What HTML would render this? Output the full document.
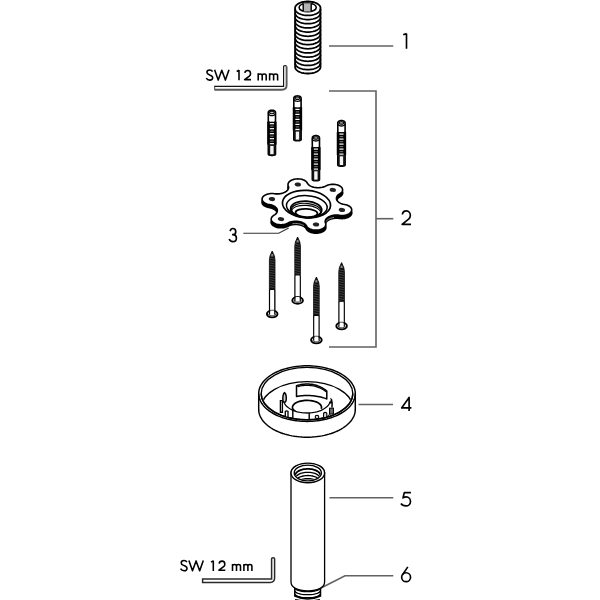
<!DOCTYPE html>
<html><head><meta charset="utf-8"><style>
html,body{margin:0;padding:0;background:#fff;}
svg{display:block;}
</style></head><body>
<svg width="600" height="600" viewBox="0 0 600 600">
<rect width="600" height="600" fill="#fff"/>
<path d="M295.10,8.00 L295.14,7.49 L295.26,6.98 L295.45,6.48 L295.72,5.99 L296.07,5.51 L296.48,5.05 L296.97,4.60 L297.53,4.18 L298.14,3.78 L298.82,3.40 L299.55,3.06 L300.34,2.74 L301.16,2.46 L302.03,2.21 L302.94,1.99 L303.88,1.82 L304.84,1.68 L305.81,1.58 L306.80,1.52 L307.80,1.50 L308.80,1.52 L309.79,1.58 L310.76,1.68 L311.72,1.82 L312.66,1.99 L313.57,2.21 L314.44,2.46 L315.26,2.74 L316.05,3.06 L316.78,3.40 L317.46,3.78 L318.07,4.18 L318.63,4.60 L319.12,5.05 L319.53,5.51 L319.88,5.99 L320.15,6.48 L320.34,6.98 L320.46,7.49 L320.50,8.00 L320.50,67.00 L320.46,67.51 L320.34,68.02 L320.15,68.52 L319.88,69.01 L319.53,69.49 L319.12,69.95 L318.63,70.40 L318.07,70.82 L317.46,71.22 L316.78,71.60 L316.05,71.94 L315.26,72.26 L314.44,72.54 L313.57,72.79 L312.66,73.01 L311.72,73.18 L310.76,73.32 L309.79,73.42 L308.80,73.48 L307.80,73.50 L306.80,73.48 L305.81,73.42 L304.84,73.32 L303.88,73.18 L302.94,73.01 L302.03,72.79 L301.16,72.54 L300.34,72.26 L299.55,71.94 L298.82,71.60 L298.14,71.22 L297.53,70.82 L296.97,70.40 L296.48,69.95 L296.07,69.49 L295.72,69.01 L295.45,68.52 L295.26,68.02 L295.14,67.51 L295.10,67.00Z" fill="#fff" stroke="#000" stroke-width="1.8"/>
<ellipse cx="307.7" cy="7.4" rx="8.6" ry="4.3" fill="#fff" stroke="#000" stroke-width="1.6"/>
<rect x="303.2" y="3.3" width="8" height="8.2" fill="#b4b4b4" stroke="none"/>
<path d="M303.2,3.4 V11.4 M311.2,3.4 V11.4" stroke="#000" stroke-width="1.4"/>
<path d="M295.10,8.90 L295.17,9.58 L295.38,10.25 L295.72,10.91 L296.20,11.54 L296.80,12.15 L297.53,12.72 L298.36,13.25 L299.30,13.73 L300.34,14.16 L301.45,14.53 L302.63,14.84 L303.88,15.08 L305.16,15.26 L306.47,15.36 L307.80,15.40 L309.13,15.36 L310.44,15.26 L311.72,15.08 L312.97,14.84 L314.15,14.53 L315.26,14.16 L316.30,13.73 L317.24,13.25 L318.07,12.72 L318.80,12.15 L319.40,11.54 L319.88,10.91 L320.22,10.25 L320.43,9.58 L320.50,8.90" fill="none" stroke="#000" stroke-width="1.75"/>
<path d="M295.10,13.07 L295.17,13.75 L295.38,14.42 L295.72,15.08 L296.20,15.71 L296.80,16.32 L297.53,16.89 L298.36,17.42 L299.30,17.90 L300.34,18.33 L301.45,18.70 L302.63,19.01 L303.88,19.25 L305.16,19.43 L306.47,19.53 L307.80,19.57 L309.13,19.53 L310.44,19.43 L311.72,19.25 L312.97,19.01 L314.15,18.70 L315.26,18.33 L316.30,17.90 L317.24,17.42 L318.07,16.89 L318.80,16.32 L319.40,15.71 L319.88,15.08 L320.22,14.42 L320.43,13.75 L320.50,13.07" fill="none" stroke="#000" stroke-width="1.75"/>
<path d="M295.10,17.24 L295.17,17.92 L295.38,18.59 L295.72,19.25 L296.20,19.88 L296.80,20.49 L297.53,21.06 L298.36,21.59 L299.30,22.07 L300.34,22.50 L301.45,22.87 L302.63,23.18 L303.88,23.42 L305.16,23.60 L306.47,23.70 L307.80,23.74 L309.13,23.70 L310.44,23.60 L311.72,23.42 L312.97,23.18 L314.15,22.87 L315.26,22.50 L316.30,22.07 L317.24,21.59 L318.07,21.06 L318.80,20.49 L319.40,19.88 L319.88,19.25 L320.22,18.59 L320.43,17.92 L320.50,17.24" fill="none" stroke="#000" stroke-width="1.75"/>
<path d="M295.10,21.41 L295.17,22.09 L295.38,22.76 L295.72,23.42 L296.20,24.05 L296.80,24.66 L297.53,25.23 L298.36,25.76 L299.30,26.24 L300.34,26.67 L301.45,27.04 L302.63,27.35 L303.88,27.59 L305.16,27.77 L306.47,27.87 L307.80,27.91 L309.13,27.87 L310.44,27.77 L311.72,27.59 L312.97,27.35 L314.15,27.04 L315.26,26.67 L316.30,26.24 L317.24,25.76 L318.07,25.23 L318.80,24.66 L319.40,24.05 L319.88,23.42 L320.22,22.76 L320.43,22.09 L320.50,21.41" fill="none" stroke="#000" stroke-width="1.75"/>
<path d="M295.10,25.58 L295.17,26.26 L295.38,26.93 L295.72,27.59 L296.20,28.22 L296.80,28.83 L297.53,29.40 L298.36,29.93 L299.30,30.41 L300.34,30.84 L301.45,31.21 L302.63,31.52 L303.88,31.76 L305.16,31.94 L306.47,32.04 L307.80,32.08 L309.13,32.04 L310.44,31.94 L311.72,31.76 L312.97,31.52 L314.15,31.21 L315.26,30.84 L316.30,30.41 L317.24,29.93 L318.07,29.40 L318.80,28.83 L319.40,28.22 L319.88,27.59 L320.22,26.93 L320.43,26.26 L320.50,25.58" fill="none" stroke="#000" stroke-width="1.75"/>
<path d="M295.10,29.75 L295.17,30.43 L295.38,31.10 L295.72,31.76 L296.20,32.39 L296.80,33.00 L297.53,33.57 L298.36,34.10 L299.30,34.58 L300.34,35.01 L301.45,35.38 L302.63,35.69 L303.88,35.93 L305.16,36.11 L306.47,36.21 L307.80,36.25 L309.13,36.21 L310.44,36.11 L311.72,35.93 L312.97,35.69 L314.15,35.38 L315.26,35.01 L316.30,34.58 L317.24,34.10 L318.07,33.57 L318.80,33.00 L319.40,32.39 L319.88,31.76 L320.22,31.10 L320.43,30.43 L320.50,29.75" fill="none" stroke="#000" stroke-width="1.75"/>
<path d="M295.10,33.92 L295.17,34.60 L295.38,35.27 L295.72,35.93 L296.20,36.56 L296.80,37.17 L297.53,37.74 L298.36,38.27 L299.30,38.75 L300.34,39.18 L301.45,39.55 L302.63,39.86 L303.88,40.10 L305.16,40.28 L306.47,40.38 L307.80,40.42 L309.13,40.38 L310.44,40.28 L311.72,40.10 L312.97,39.86 L314.15,39.55 L315.26,39.18 L316.30,38.75 L317.24,38.27 L318.07,37.74 L318.80,37.17 L319.40,36.56 L319.88,35.93 L320.22,35.27 L320.43,34.60 L320.50,33.92" fill="none" stroke="#000" stroke-width="1.75"/>
<path d="M295.10,38.09 L295.17,38.77 L295.38,39.44 L295.72,40.10 L296.20,40.73 L296.80,41.34 L297.53,41.91 L298.36,42.44 L299.30,42.92 L300.34,43.35 L301.45,43.72 L302.63,44.03 L303.88,44.27 L305.16,44.45 L306.47,44.55 L307.80,44.59 L309.13,44.55 L310.44,44.45 L311.72,44.27 L312.97,44.03 L314.15,43.72 L315.26,43.35 L316.30,42.92 L317.24,42.44 L318.07,41.91 L318.80,41.34 L319.40,40.73 L319.88,40.10 L320.22,39.44 L320.43,38.77 L320.50,38.09" fill="none" stroke="#000" stroke-width="1.75"/>
<path d="M295.10,42.26 L295.17,42.94 L295.38,43.61 L295.72,44.27 L296.20,44.90 L296.80,45.51 L297.53,46.08 L298.36,46.61 L299.30,47.09 L300.34,47.52 L301.45,47.89 L302.63,48.20 L303.88,48.44 L305.16,48.62 L306.47,48.72 L307.80,48.76 L309.13,48.72 L310.44,48.62 L311.72,48.44 L312.97,48.20 L314.15,47.89 L315.26,47.52 L316.30,47.09 L317.24,46.61 L318.07,46.08 L318.80,45.51 L319.40,44.90 L319.88,44.27 L320.22,43.61 L320.43,42.94 L320.50,42.26" fill="none" stroke="#000" stroke-width="1.75"/>
<path d="M295.10,46.43 L295.17,47.11 L295.38,47.78 L295.72,48.44 L296.20,49.07 L296.80,49.68 L297.53,50.25 L298.36,50.78 L299.30,51.26 L300.34,51.69 L301.45,52.06 L302.63,52.37 L303.88,52.61 L305.16,52.79 L306.47,52.89 L307.80,52.93 L309.13,52.89 L310.44,52.79 L311.72,52.61 L312.97,52.37 L314.15,52.06 L315.26,51.69 L316.30,51.26 L317.24,50.78 L318.07,50.25 L318.80,49.68 L319.40,49.07 L319.88,48.44 L320.22,47.78 L320.43,47.11 L320.50,46.43" fill="none" stroke="#000" stroke-width="1.75"/>
<path d="M295.10,50.60 L295.17,51.28 L295.38,51.95 L295.72,52.61 L296.20,53.24 L296.80,53.85 L297.53,54.42 L298.36,54.95 L299.30,55.43 L300.34,55.86 L301.45,56.23 L302.63,56.54 L303.88,56.78 L305.16,56.96 L306.47,57.06 L307.80,57.10 L309.13,57.06 L310.44,56.96 L311.72,56.78 L312.97,56.54 L314.15,56.23 L315.26,55.86 L316.30,55.43 L317.24,54.95 L318.07,54.42 L318.80,53.85 L319.40,53.24 L319.88,52.61 L320.22,51.95 L320.43,51.28 L320.50,50.60" fill="none" stroke="#000" stroke-width="1.75"/>
<path d="M295.10,54.77 L295.17,55.45 L295.38,56.12 L295.72,56.78 L296.20,57.41 L296.80,58.02 L297.53,58.59 L298.36,59.12 L299.30,59.60 L300.34,60.03 L301.45,60.40 L302.63,60.71 L303.88,60.95 L305.16,61.13 L306.47,61.23 L307.80,61.27 L309.13,61.23 L310.44,61.13 L311.72,60.95 L312.97,60.71 L314.15,60.40 L315.26,60.03 L316.30,59.60 L317.24,59.12 L318.07,58.59 L318.80,58.02 L319.40,57.41 L319.88,56.78 L320.22,56.12 L320.43,55.45 L320.50,54.77" fill="none" stroke="#000" stroke-width="1.75"/>
<path d="M295.10,58.94 L295.17,59.62 L295.38,60.29 L295.72,60.95 L296.20,61.58 L296.80,62.19 L297.53,62.76 L298.36,63.29 L299.30,63.77 L300.34,64.20 L301.45,64.57 L302.63,64.88 L303.88,65.12 L305.16,65.30 L306.47,65.40 L307.80,65.44 L309.13,65.40 L310.44,65.30 L311.72,65.12 L312.97,64.88 L314.15,64.57 L315.26,64.20 L316.30,63.77 L317.24,63.29 L318.07,62.76 L318.80,62.19 L319.40,61.58 L319.88,60.95 L320.22,60.29 L320.43,59.62 L320.50,58.94" fill="none" stroke="#000" stroke-width="1.75"/>
<path d="M295.10,63.11 L295.17,63.79 L295.38,64.46 L295.72,65.12 L296.20,65.75 L296.80,66.36 L297.53,66.93 L298.36,67.46 L299.30,67.94 L300.34,68.37 L301.45,68.74 L302.63,69.05 L303.88,69.29 L305.16,69.47 L306.47,69.57 L307.80,69.61 L309.13,69.57 L310.44,69.47 L311.72,69.29 L312.97,69.05 L314.15,68.74 L315.26,68.37 L316.30,67.94 L317.24,67.46 L318.07,66.93 L318.80,66.36 L319.40,65.75 L319.88,65.12 L320.22,64.46 L320.43,63.79 L320.50,63.11" fill="none" stroke="#000" stroke-width="1.75"/>
<g stroke="#626262" stroke-width="1.6" fill="none">
<path d="M329,46 H393.3"/>
<path d="M329,91 H376 V347 H329"/>
<path d="M376,218.7 H393.3"/>
<path d="M329.5,497.8 H393.3"/>
<path d="M320.5,588.2 L345,575.8 H393.3"/>
<path d="M358.5,404.5 H393"/>
</g>
<path d="M243.3,233.3 H278.7 L288.7,227.9" stroke="#333" stroke-width="1.1" fill="none"/>
<path d="M403.2,34.7 L406.5,33.6 M406.5,33.4 V48.8" fill="none" stroke="#000" stroke-width="1.65" stroke-linecap="butt" stroke-linejoin="round"/>
<path d="M 402.35,214.52 C 402.63,212.24 404.27,210.90 406.36,210.90 C 408.82,210.90 410.36,213.04 410.36,215.59 C 410.36,217.20 409.82,218.14 408.63,219.21 L 402.08,224.30 H 411.00" fill="none" stroke="#000" stroke-width="1.65" stroke-linecap="butt" stroke-linejoin="round"/>
<path d="M230.06,231.12 C230.64,229.42 231.58,228.50 232.73,228.50 C234.38,228.50 235.75,229.81 235.75,231.64 C235.75,233.48 234.38,234.66 232.73,234.66 H232.08 M232.73,234.66 C234.82,234.66 236.40,236.10 236.40,238.19 C236.40,240.16 234.82,241.60 232.73,241.60 C231.14,241.60 229.78,240.55 229.20,238.98" fill="none" stroke="#000" stroke-width="1.65" stroke-linecap="butt" stroke-linejoin="round"/>
<path d="M409.3,397.3 L401.6,407.9 M401.0,407.9 H411.4 M409.1,396.8 V410.9" fill="none" stroke="#000" stroke-width="1.65" stroke-linecap="butt" stroke-linejoin="round"/>
<path d="M410.9,492.6 H404.3 L403.0,497.9 C404,497.3 405.1,496.9 406.2,496.9 C408.7,496.9 410.5,498.9 410.5,501.4 C410.5,504 408.5,505.9 405.9,505.9 C403.7,505.9 401.9,505 400.9,503.5" fill="none" stroke="#000" stroke-width="1.65" stroke-linecap="butt" stroke-linejoin="round"/>
<circle cx="406.1" cy="577.2" r="4.45" fill="none" stroke="#000" stroke-width="1.65"/>
<path d="M407.8,566.9 L402.4,575.0" fill="none" stroke="#000" stroke-width="1.65" stroke-linecap="butt" stroke-linejoin="round"/>
<g transform="translate(0 0)"><path d="M212.6,71.6 C212,70.5 211,69.9 209.7,69.9 C208.1,69.9 206.9,70.9 206.9,72.3 C206.9,73.8 208.2,74.4 209.7,75 C211.5,75.6 212.7,76.4 212.7,77.8 C212.7,79.3 211.4,80.1 209.7,80.1 C208.1,80.1 206.9,79.3 206.3,78.1" fill="none" stroke="#000" stroke-width="1.55" stroke-linecap="butt" stroke-linejoin="round"/>
<path d="M214.6,69.8 L218.2,80.1 L221.8,70.3 L225.4,80.1 L229.0,69.8" fill="none" stroke="#000" stroke-width="1.55" stroke-linecap="butt" stroke-linejoin="round"/>
<path d="M236.7,71.5 L239.0,70.3 M239.0,69.9 V80.3" fill="none" stroke="#000" stroke-width="1.55" stroke-linecap="butt" stroke-linejoin="round"/>
<path d="M 244.82,72.96 C 245.02,71.41 246.19,70.50 247.69,70.50 C 249.44,70.50 250.54,71.96 250.54,73.69 C 250.54,74.78 250.16,75.41 249.31,76.14 L 244.63,79.60 H 251.00" fill="none" stroke="#000" stroke-width="1.55" stroke-linecap="butt" stroke-linejoin="round"/>
<path d="M258.2,80.4 V73.3 M258.2,75.6 C258.2,74.3 259.09999999999997,73.9 260.2,73.9 C261.3,73.9 262.2,74.3 262.2,75.6 V80.4 M262.2,75.6 C262.2,74.3 263.09999999999997,73.9 264.2,73.9 C265.3,73.9 266.2,74.3 266.2,75.6 V80.4" fill="none" stroke="#000" stroke-width="1.55" stroke-linecap="butt" stroke-linejoin="round"/>
<path d="M269.6,80.4 V73.3 M269.6,75.6 C269.6,74.3 270.5,73.9 271.6,73.9 C272.70000000000005,73.9 273.6,74.3 273.6,75.6 V80.4 M273.6,75.6 C273.6,74.3 274.5,73.9 275.6,73.9 C276.70000000000005,73.9 277.6,74.3 277.6,75.6 V80.4" fill="none" stroke="#000" stroke-width="1.55" stroke-linecap="butt" stroke-linejoin="round"/></g>
<g transform="translate(-25.7 490.6)"><path d="M212.6,71.6 C212,70.5 211,69.9 209.7,69.9 C208.1,69.9 206.9,70.9 206.9,72.3 C206.9,73.8 208.2,74.4 209.7,75 C211.5,75.6 212.7,76.4 212.7,77.8 C212.7,79.3 211.4,80.1 209.7,80.1 C208.1,80.1 206.9,79.3 206.3,78.1" fill="none" stroke="#000" stroke-width="1.55" stroke-linecap="butt" stroke-linejoin="round"/>
<path d="M214.6,69.8 L218.2,80.1 L221.8,70.3 L225.4,80.1 L229.0,69.8" fill="none" stroke="#000" stroke-width="1.55" stroke-linecap="butt" stroke-linejoin="round"/>
<path d="M236.7,71.5 L239.0,70.3 M239.0,69.9 V80.3" fill="none" stroke="#000" stroke-width="1.55" stroke-linecap="butt" stroke-linejoin="round"/>
<path d="M 244.82,72.96 C 245.02,71.41 246.19,70.50 247.69,70.50 C 249.44,70.50 250.54,71.96 250.54,73.69 C 250.54,74.78 250.16,75.41 249.31,76.14 L 244.63,79.60 H 251.00" fill="none" stroke="#000" stroke-width="1.55" stroke-linecap="butt" stroke-linejoin="round"/>
<path d="M258.2,80.4 V73.3 M258.2,75.6 C258.2,74.3 259.09999999999997,73.9 260.2,73.9 C261.3,73.9 262.2,74.3 262.2,75.6 V80.4 M262.2,75.6 C262.2,74.3 263.09999999999997,73.9 264.2,73.9 C265.3,73.9 266.2,74.3 266.2,75.6 V80.4" fill="none" stroke="#000" stroke-width="1.55" stroke-linecap="butt" stroke-linejoin="round"/>
<path d="M269.6,80.4 V73.3 M269.6,75.6 C269.6,74.3 270.5,73.9 271.6,73.9 C272.70000000000005,73.9 273.6,74.3 273.6,75.6 V80.4 M273.6,75.6 C273.6,74.3 274.5,73.9 275.6,73.9 C276.70000000000005,73.9 277.6,74.3 277.6,75.6 V80.4" fill="none" stroke="#000" stroke-width="1.55" stroke-linecap="butt" stroke-linejoin="round"/></g>
<path d="M214.6,89.7 H282.1 Q286.6,89.7 286.6,85.3 V66.6" fill="none" stroke="#5a5a5a" stroke-width="1.9"/>
<path d="M214.6,85.8 V90.3" fill="none" stroke="#666" stroke-width="1.2"/>
<path d="M214.6,86.3 H283.6 V66.6 Q283.6,65.6 285.1,65.6 Q286.6,65.6 286.6,66.6" fill="none" stroke="#111" stroke-width="1.15"/>
<path d="M202.6,582.5 H270.1 Q274.6,582.5 274.6,578.1 V558.8 Q274.6,557.8 273.1,557.8 Q271.6,557.8 271.6,558.8 V579.1 H202.6 Z" fill="#fff" stroke="#2a2a2a" stroke-width="1.5"/>
<path d="M268.30,112.40 L268.37,111.97 L268.57,111.56 L268.91,111.18 L269.35,110.84 L269.90,110.57 L270.52,110.37 L271.20,110.24 L271.90,110.20 L272.60,110.24 L273.28,110.37 L273.90,110.57 L274.45,110.84 L274.89,111.18 L275.23,111.56 L275.43,111.97 L275.50,112.40 L275.50,154.20 L275.43,154.43 L275.23,154.66 L274.89,154.87 L274.45,155.05 L273.90,155.20 L273.28,155.31 L272.60,155.38 L271.90,155.40 L271.20,155.38 L270.52,155.31 L269.90,155.20 L269.35,155.05 L268.91,154.87 L268.57,154.66 L268.37,154.43 L268.30,154.20Z" fill="#fff" stroke="#000" stroke-width="1.6"/>
<ellipse cx="271.90000000000003" cy="112.5" rx="2.4000000000000004" ry="1.2000000000000002" fill="#c8c8c8" stroke="#000" stroke-width="1.1"/>
<path d="M268.30,113.40 L268.42,113.97 L268.78,114.50 L269.35,114.96 L270.10,115.31 L270.97,115.53 L271.90,115.60 L272.83,115.53 L273.70,115.31 L274.45,114.96 L275.02,114.50 L275.38,113.97 L275.50,113.40" fill="none" stroke="#000" stroke-width="1.3"/>
<path d="M268.30,120.20 L268.30,120.20 L268.42,120.72 L268.78,121.20 L269.35,121.61 L270.10,121.93 L270.97,122.13 L271.90,122.20 L272.83,122.13 L273.70,121.93 L274.45,121.61 L275.02,121.20 L275.38,120.72 L275.50,120.20 L275.50,144.70 L268.30,144.70Z" fill="#111"/>
<rect x="267.25" y="121.7" width="9.3" height="22.999999999999986" fill="#000"/>
<rect x="269.8" y="123.10000000000001" width="4.2" height="1.2" fill="#fff"/>
<rect x="270.20000000000005" y="125.60000000000001" width="3.4" height="1.2" fill="#6a6a6a"/>
<rect x="269.8" y="128.1" width="4.2" height="1.2" fill="#fff"/>
<rect x="270.20000000000005" y="130.6" width="3.4" height="1.2" fill="#6a6a6a"/>
<rect x="269.8" y="133.1" width="4.2" height="1.2" fill="#fff"/>
<rect x="270.20000000000005" y="135.6" width="3.4" height="1.2" fill="#6a6a6a"/>
<rect x="269.8" y="138.1" width="4.2" height="1.2" fill="#fff"/>
<rect x="270.20000000000005" y="140.6" width="3.4" height="1.2" fill="#6a6a6a"/>
<rect x="269.8" y="143.1" width="4.2" height="1.2" fill="#fff"/>
<rect x="268.3" y="144.7" width="7.200000000000001" height="10.700000000000017" fill="#111"/>
<rect x="270.20000000000005" y="145.89999999999998" width="3.4" height="8.300000000000017" fill="#f4f4f4"/>
<path d="M293.80,98.10 L293.87,97.67 L294.08,97.26 L294.42,96.88 L294.87,96.54 L295.42,96.27 L296.05,96.07 L296.74,95.94 L297.45,95.90 L298.16,95.94 L298.85,96.07 L299.48,96.27 L300.03,96.54 L300.48,96.88 L300.82,97.26 L301.03,97.67 L301.10,98.10 L301.10,139.60 L301.03,139.83 L300.82,140.06 L300.48,140.27 L300.03,140.45 L299.48,140.60 L298.85,140.71 L298.16,140.78 L297.45,140.80 L296.74,140.78 L296.05,140.71 L295.42,140.60 L294.87,140.45 L294.42,140.27 L294.08,140.06 L293.87,139.83 L293.80,139.60Z" fill="#fff" stroke="#000" stroke-width="1.6"/>
<ellipse cx="297.45" cy="98.19999999999999" rx="2.45" ry="1.2000000000000002" fill="#c8c8c8" stroke="#000" stroke-width="1.1"/>
<path d="M293.80,99.10 L293.92,99.67 L294.29,100.20 L294.87,100.66 L295.62,101.01 L296.51,101.23 L297.45,101.30 L298.39,101.23 L299.27,101.01 L300.03,100.66 L300.61,100.20 L300.98,99.67 L301.10,99.10" fill="none" stroke="#000" stroke-width="1.3"/>
<path d="M293.80,105.90 L293.80,105.90 L293.92,106.42 L294.29,106.90 L294.87,107.31 L295.62,107.63 L296.51,107.83 L297.45,107.90 L298.39,107.83 L299.27,107.63 L300.03,107.31 L300.61,106.90 L300.98,106.42 L301.10,105.90 L301.10,130.40 L293.80,130.40Z" fill="#111"/>
<rect x="292.75" y="107.39999999999999" width="9.4" height="22.999999999999986" fill="#000"/>
<rect x="295.34999999999997" y="108.8" width="4.2" height="1.2" fill="#fff"/>
<rect x="295.75" y="111.3" width="3.4" height="1.2" fill="#6a6a6a"/>
<rect x="295.34999999999997" y="113.8" width="4.2" height="1.2" fill="#fff"/>
<rect x="295.75" y="116.3" width="3.4" height="1.2" fill="#6a6a6a"/>
<rect x="295.34999999999997" y="118.8" width="4.2" height="1.2" fill="#fff"/>
<rect x="295.75" y="121.3" width="3.4" height="1.2" fill="#6a6a6a"/>
<rect x="295.34999999999997" y="123.8" width="4.2" height="1.2" fill="#fff"/>
<rect x="295.75" y="126.3" width="3.4" height="1.2" fill="#6a6a6a"/>
<rect x="295.34999999999997" y="128.79999999999998" width="4.2" height="1.2" fill="#fff"/>
<rect x="293.8" y="130.39999999999998" width="7.300000000000001" height="10.400000000000006" fill="#111"/>
<rect x="295.75" y="131.59999999999997" width="3.4" height="8.000000000000005" fill="#f4f4f4"/>
<path d="M312.30,137.80 L312.37,137.37 L312.57,136.96 L312.91,136.58 L313.35,136.24 L313.90,135.97 L314.52,135.77 L315.20,135.64 L315.90,135.60 L316.60,135.64 L317.28,135.77 L317.90,135.97 L318.45,136.24 L318.89,136.58 L319.23,136.96 L319.43,137.37 L319.50,137.80 L319.50,179.60 L319.43,179.83 L319.23,180.06 L318.89,180.27 L318.45,180.45 L317.90,180.60 L317.28,180.71 L316.60,180.78 L315.90,180.80 L315.20,180.78 L314.52,180.71 L313.90,180.60 L313.35,180.45 L312.91,180.27 L312.57,180.06 L312.37,179.83 L312.30,179.60Z" fill="#fff" stroke="#000" stroke-width="1.6"/>
<ellipse cx="315.90000000000003" cy="137.9" rx="2.4000000000000004" ry="1.2000000000000002" fill="#c8c8c8" stroke="#000" stroke-width="1.1"/>
<path d="M312.30,138.80 L312.42,139.37 L312.78,139.90 L313.35,140.36 L314.10,140.71 L314.97,140.93 L315.90,141.00 L316.83,140.93 L317.70,140.71 L318.45,140.36 L319.02,139.90 L319.38,139.37 L319.50,138.80" fill="none" stroke="#000" stroke-width="1.3"/>
<path d="M312.30,145.60 L312.30,145.60 L312.42,146.12 L312.78,146.60 L313.35,147.01 L314.10,147.33 L314.97,147.53 L315.90,147.60 L316.83,147.53 L317.70,147.33 L318.45,147.01 L319.02,146.60 L319.38,146.12 L319.50,145.60 L319.50,170.10 L312.30,170.10Z" fill="#111"/>
<rect x="311.25" y="147.10000000000002" width="9.3" height="23.0" fill="#000"/>
<rect x="313.8" y="148.50000000000003" width="4.2" height="1.2" fill="#fff"/>
<rect x="314.20000000000005" y="151.00000000000003" width="3.4" height="1.2" fill="#6a6a6a"/>
<rect x="313.8" y="153.50000000000003" width="4.2" height="1.2" fill="#fff"/>
<rect x="314.20000000000005" y="156.00000000000003" width="3.4" height="1.2" fill="#6a6a6a"/>
<rect x="313.8" y="158.50000000000003" width="4.2" height="1.2" fill="#fff"/>
<rect x="314.20000000000005" y="161.00000000000003" width="3.4" height="1.2" fill="#6a6a6a"/>
<rect x="313.8" y="163.50000000000003" width="4.2" height="1.2" fill="#fff"/>
<rect x="314.20000000000005" y="166.00000000000003" width="3.4" height="1.2" fill="#6a6a6a"/>
<rect x="313.8" y="168.50000000000003" width="4.2" height="1.2" fill="#fff"/>
<rect x="312.3" y="170.10000000000002" width="7.200000000000001" height="10.699999999999989" fill="#111"/>
<rect x="314.20000000000005" y="171.3" width="3.4" height="8.299999999999988" fill="#f4f4f4"/>
<path d="M337.80,122.80 L337.87,122.37 L338.08,121.96 L338.42,121.58 L338.87,121.24 L339.42,120.97 L340.05,120.77 L340.74,120.64 L341.45,120.60 L342.16,120.64 L342.85,120.77 L343.48,120.97 L344.03,121.24 L344.48,121.58 L344.82,121.96 L345.03,122.37 L345.10,122.80 L345.10,165.00 L345.03,165.23 L344.82,165.46 L344.48,165.67 L344.03,165.85 L343.48,166.00 L342.85,166.11 L342.16,166.18 L341.45,166.20 L340.74,166.18 L340.05,166.11 L339.42,166.00 L338.87,165.85 L338.42,165.67 L338.08,165.46 L337.87,165.23 L337.80,165.00Z" fill="#fff" stroke="#000" stroke-width="1.6"/>
<ellipse cx="341.45" cy="122.89999999999999" rx="2.45" ry="1.2000000000000002" fill="#c8c8c8" stroke="#000" stroke-width="1.1"/>
<path d="M337.80,123.80 L337.92,124.37 L338.29,124.90 L338.87,125.36 L339.62,125.71 L340.51,125.93 L341.45,126.00 L342.39,125.93 L343.27,125.71 L344.03,125.36 L344.61,124.90 L344.98,124.37 L345.10,123.80" fill="none" stroke="#000" stroke-width="1.3"/>
<path d="M337.80,130.60 L337.80,130.60 L337.92,131.12 L338.29,131.60 L338.87,132.01 L339.62,132.33 L340.51,132.53 L341.45,132.60 L342.39,132.53 L343.27,132.33 L344.03,132.01 L344.61,131.60 L344.98,131.12 L345.10,130.60 L345.10,155.10 L337.80,155.10Z" fill="#111"/>
<rect x="336.75" y="132.1" width="9.4" height="23.0" fill="#000"/>
<rect x="339.34999999999997" y="133.5" width="4.2" height="1.2" fill="#fff"/>
<rect x="339.75" y="136.0" width="3.4" height="1.2" fill="#6a6a6a"/>
<rect x="339.34999999999997" y="138.5" width="4.2" height="1.2" fill="#fff"/>
<rect x="339.75" y="141.0" width="3.4" height="1.2" fill="#6a6a6a"/>
<rect x="339.34999999999997" y="143.5" width="4.2" height="1.2" fill="#fff"/>
<rect x="339.75" y="146.0" width="3.4" height="1.2" fill="#6a6a6a"/>
<rect x="339.34999999999997" y="148.5" width="4.2" height="1.2" fill="#fff"/>
<rect x="339.75" y="151.0" width="3.4" height="1.2" fill="#6a6a6a"/>
<rect x="339.34999999999997" y="153.5" width="4.2" height="1.2" fill="#fff"/>
<rect x="337.8" y="155.1" width="7.300000000000001" height="11.099999999999994" fill="#111"/>
<rect x="339.75" y="156.29999999999998" width="3.4" height="8.699999999999994" fill="#f4f4f4"/>
<path d="M344.59,207.51 L345.80,207.75 L346.93,208.08 L347.98,208.49 L348.93,208.97 L349.76,209.52 L350.45,210.13 L351.00,210.79 L351.40,211.48 L351.64,212.19 L351.71,212.92 L351.61,213.64 L351.35,214.36 L350.93,215.05 L350.36,215.70 L349.64,216.30 L348.79,216.85 L347.83,217.33 L346.76,217.74 L345.62,218.06 L344.41,218.30 L343.15,218.44 L341.88,218.49 L340.61,218.45 L339.36,218.31 L337.92,218.15 L336.46,218.10 L335.01,218.16 L333.57,218.32 L332.18,218.59 L330.87,218.96 L329.65,219.43 L328.54,219.98 L327.57,220.60 L326.74,221.29 L326.08,222.04 L325.60,222.83 L325.29,223.64 L325.18,224.47 L325.25,225.31 L325.51,226.13 L325.74,226.84 L325.80,227.57 L325.70,228.29 L325.44,229.01 L325.01,229.69 L324.43,230.35 L323.71,230.95 L322.86,231.49 L321.89,231.97 L320.82,232.37 L319.67,232.69 L318.46,232.93 L317.20,233.07 L315.93,233.11 L314.66,233.07 L313.41,232.92 L312.20,232.69 L311.06,232.37 L310.00,231.97 L309.04,231.49 L308.20,230.94 L307.50,230.34 L306.94,229.69 L306.53,229.00 L306.06,228.21 L305.41,227.47 L304.61,226.78 L303.65,226.15 L302.55,225.60 L301.34,225.14 L300.04,224.77 L298.65,224.50 L297.22,224.34 L295.77,224.28 L294.31,224.33 L292.87,224.49 L291.48,224.75 L290.16,225.11 L288.93,225.57 L287.82,226.11 L286.85,226.59 L285.77,226.99 L284.62,227.30 L283.41,227.53 L282.15,227.67 L280.88,227.71 L279.60,227.66 L278.36,227.52 L277.15,227.28 L276.01,226.96 L274.96,226.55 L274.01,226.07 L273.17,225.52 L272.47,224.91 L271.92,224.26 L271.51,223.57 L271.27,222.86 L271.19,222.13 L271.28,221.41 L271.54,220.69 L271.95,220.00 L272.52,219.35 L273.23,218.74 L274.07,218.19 L275.03,217.56 L275.85,216.86 L276.50,216.12 L276.98,215.32 L277.27,214.51 L277.37,213.67 L277.29,212.84 L277.01,212.02 L276.56,211.23 L275.92,210.49 L275.12,209.79 L274.17,209.16 L273.09,208.61 L271.88,208.14 L270.58,207.76 L269.21,207.49 L268.00,207.25 L266.87,206.92 L265.82,206.51 L264.87,206.03 L264.04,205.48 L263.35,204.87 L262.80,204.21 L262.40,203.52 L262.16,202.81 L262.09,202.08 L262.19,201.36 L262.45,200.64 L262.87,199.95 L263.44,199.30 L264.16,198.70 L265.01,198.15 L265.97,197.67 L267.04,197.26 L268.18,196.94 L269.39,196.70 L270.65,196.56 L271.92,196.51 L273.19,196.55 L274.44,196.69 L275.88,196.85 L277.34,196.90 L278.79,196.84 L280.23,196.68 L281.62,196.41 L282.93,196.04 L284.15,195.57 L285.26,195.02 L286.23,194.40 L287.06,193.71 L287.72,192.96 L288.20,192.17 L288.51,191.36 L288.62,190.53 L288.55,189.69 L288.29,188.87 L288.06,188.16 L288.00,187.43 L288.10,186.71 L288.36,185.99 L288.79,185.31 L289.37,184.65 L290.09,184.05 L290.94,183.51 L291.91,183.03 L292.98,182.63 L294.13,182.31 L295.34,182.07 L296.60,181.93 L297.87,181.89 L299.14,181.93 L300.39,182.08 L301.60,182.31 L302.74,182.63 L303.80,183.03 L304.76,183.51 L305.60,184.06 L306.30,184.66 L306.86,185.31 L307.27,186.00 L307.74,186.79 L308.39,187.53 L309.19,188.22 L310.15,188.85 L311.25,189.40 L312.46,189.86 L313.76,190.23 L315.14,190.50 L316.58,190.66 L318.03,190.72 L319.49,190.67 L320.93,190.51 L322.32,190.25 L323.64,189.89 L324.87,189.43 L325.98,188.89 L326.95,188.41 L328.03,188.01 L329.18,187.70 L330.39,187.47 L331.65,187.33 L332.92,187.29 L334.20,187.34 L335.44,187.48 L336.65,187.72 L337.79,188.04 L338.84,188.45 L339.79,188.93 L340.63,189.48 L341.33,190.09 L341.88,190.74 L342.29,191.43 L342.53,192.14 L342.61,192.87 L342.52,193.59 L342.26,194.31 L341.85,195.00 L341.28,195.65 L340.57,196.26 L339.73,196.81 L338.77,197.44 L337.95,198.14 L337.30,198.88 L336.82,199.68 L336.53,200.49 L336.43,201.33 L336.51,202.16 L336.79,202.98 L337.24,203.77 L337.88,204.51 L338.68,205.21 L339.63,205.84 L340.71,206.39 L341.92,206.86 L343.22,207.24Z" fill="#000" stroke="#000" stroke-width="1.8" stroke-linejoin="round"/>
<path d="M333.57,217.52 L332.18,217.79 L330.87,218.16 L329.65,218.63 L328.54,219.18 L327.57,219.80 L326.74,220.49 L326.08,221.24 L325.60,222.03" fill="none" stroke="#8a8a8a" stroke-width="1.0" stroke-linecap="round"/>
<path d="M303.65,225.35 L302.55,224.80 L301.34,224.34 L300.04,223.97 L298.65,223.70 L297.22,223.54 L295.77,223.48 L294.31,223.53 L292.87,223.69" fill="none" stroke="#8a8a8a" stroke-width="1.0" stroke-linecap="round"/>
<path d="M344.59,204.51 L345.80,204.75 L346.93,205.08 L347.98,205.49 L348.93,205.97 L349.76,206.52 L350.45,207.13 L351.00,207.79 L351.40,208.48 L351.64,209.19 L351.71,209.92 L351.61,210.64 L351.35,211.36 L350.93,212.05 L350.36,212.70 L349.64,213.30 L348.79,213.85 L347.83,214.33 L346.76,214.74 L345.62,215.06 L344.41,215.30 L343.15,215.44 L341.88,215.49 L340.61,215.45 L339.36,215.31 L337.92,215.15 L336.46,215.10 L335.01,215.16 L333.57,215.32 L332.18,215.59 L330.87,215.96 L329.65,216.43 L328.54,216.98 L327.57,217.60 L326.74,218.29 L326.08,219.04 L325.60,219.83 L325.29,220.64 L325.18,221.47 L325.25,222.31 L325.51,223.13 L325.74,223.84 L325.80,224.57 L325.70,225.29 L325.44,226.01 L325.01,226.69 L324.43,227.35 L323.71,227.95 L322.86,228.49 L321.89,228.97 L320.82,229.37 L319.67,229.69 L318.46,229.93 L317.20,230.07 L315.93,230.11 L314.66,230.07 L313.41,229.92 L312.20,229.69 L311.06,229.37 L310.00,228.97 L309.04,228.49 L308.20,227.94 L307.50,227.34 L306.94,226.69 L306.53,226.00 L306.06,225.21 L305.41,224.47 L304.61,223.78 L303.65,223.15 L302.55,222.60 L301.34,222.14 L300.04,221.77 L298.65,221.50 L297.22,221.34 L295.77,221.28 L294.31,221.33 L292.87,221.49 L291.48,221.75 L290.16,222.11 L288.93,222.57 L287.82,223.11 L286.85,223.59 L285.77,223.99 L284.62,224.30 L283.41,224.53 L282.15,224.67 L280.88,224.71 L279.60,224.66 L278.36,224.52 L277.15,224.28 L276.01,223.96 L274.96,223.55 L274.01,223.07 L273.17,222.52 L272.47,221.91 L271.92,221.26 L271.51,220.57 L271.27,219.86 L271.19,219.13 L271.28,218.41 L271.54,217.69 L271.95,217.00 L272.52,216.35 L273.23,215.74 L274.07,215.19 L275.03,214.56 L275.85,213.86 L276.50,213.12 L276.98,212.32 L277.27,211.51 L277.37,210.67 L277.29,209.84 L277.01,209.02 L276.56,208.23 L275.92,207.49 L275.12,206.79 L274.17,206.16 L273.09,205.61 L271.88,205.14 L270.58,204.76 L269.21,204.49 L268.00,204.25 L266.87,203.92 L265.82,203.51 L264.87,203.03 L264.04,202.48 L263.35,201.87 L262.80,201.21 L262.40,200.52 L262.16,199.81 L262.09,199.08 L262.19,198.36 L262.45,197.64 L262.87,196.95 L263.44,196.30 L264.16,195.70 L265.01,195.15 L265.97,194.67 L267.04,194.26 L268.18,193.94 L269.39,193.70 L270.65,193.56 L271.92,193.51 L273.19,193.55 L274.44,193.69 L275.88,193.85 L277.34,193.90 L278.79,193.84 L280.23,193.68 L281.62,193.41 L282.93,193.04 L284.15,192.57 L285.26,192.02 L286.23,191.40 L287.06,190.71 L287.72,189.96 L288.20,189.17 L288.51,188.36 L288.62,187.53 L288.55,186.69 L288.29,185.87 L288.06,185.16 L288.00,184.43 L288.10,183.71 L288.36,182.99 L288.79,182.31 L289.37,181.65 L290.09,181.05 L290.94,180.51 L291.91,180.03 L292.98,179.63 L294.13,179.31 L295.34,179.07 L296.60,178.93 L297.87,178.89 L299.14,178.93 L300.39,179.08 L301.60,179.31 L302.74,179.63 L303.80,180.03 L304.76,180.51 L305.60,181.06 L306.30,181.66 L306.86,182.31 L307.27,183.00 L307.74,183.79 L308.39,184.53 L309.19,185.22 L310.15,185.85 L311.25,186.40 L312.46,186.86 L313.76,187.23 L315.14,187.50 L316.58,187.66 L318.03,187.72 L319.49,187.67 L320.93,187.51 L322.32,187.25 L323.64,186.89 L324.87,186.43 L325.98,185.89 L326.95,185.41 L328.03,185.01 L329.18,184.70 L330.39,184.47 L331.65,184.33 L332.92,184.29 L334.20,184.34 L335.44,184.48 L336.65,184.72 L337.79,185.04 L338.84,185.45 L339.79,185.93 L340.63,186.48 L341.33,187.09 L341.88,187.74 L342.29,188.43 L342.53,189.14 L342.61,189.87 L342.52,190.59 L342.26,191.31 L341.85,192.00 L341.28,192.65 L340.57,193.26 L339.73,193.81 L338.77,194.44 L337.95,195.14 L337.30,195.88 L336.82,196.68 L336.53,197.49 L336.43,198.33 L336.51,199.16 L336.79,199.98 L337.24,200.77 L337.88,201.51 L338.68,202.21 L339.63,202.84 L340.71,203.39 L341.92,203.86 L343.22,204.24Z" fill="#fff" stroke="#000" stroke-width="1.6" stroke-linejoin="round"/>
<ellipse cx="341.90" cy="209.90" rx="3.2" ry="2.0" fill="#222" transform="rotate(9 341.90 209.90)"/>
<ellipse cx="316.00" cy="224.52" rx="3.2" ry="2.0" fill="#222" transform="rotate(9 316.00 224.52)"/>
<ellipse cx="281.00" cy="219.12" rx="3.2" ry="2.0" fill="#222" transform="rotate(9 281.00 219.12)"/>
<ellipse cx="271.90" cy="199.10" rx="3.2" ry="2.0" fill="#222" transform="rotate(9 271.90 199.10)"/>
<ellipse cx="297.80" cy="184.48" rx="3.2" ry="2.0" fill="#222" transform="rotate(9 297.80 184.48)"/>
<ellipse cx="332.80" cy="189.88" rx="3.2" ry="2.0" fill="#222" transform="rotate(9 332.80 189.88)"/>
<ellipse cx="306.5" cy="204.1" rx="24.1" ry="13.7" fill="#fff" stroke="#000" stroke-width="1.7" transform="rotate(4 306.5 204.1)"/>
<ellipse cx="306.8" cy="206.4" rx="20.4" ry="10.7" fill="#fff" stroke="#000" stroke-width="1.5" transform="rotate(4 306.8 206.4)"/>
<ellipse cx="306.2" cy="209.3" rx="15.6" ry="8.2" fill="none" stroke="#000" stroke-width="1.7" transform="rotate(4 306.2 209.3)"/>
<ellipse cx="306.2" cy="210.5" rx="15.0" ry="7.2" fill="none" stroke="#000" stroke-width="1.2" transform="rotate(4 306.2 210.5)"/>
<ellipse cx="306.2" cy="211.7" rx="14.4" ry="6.3" fill="none" stroke="#000" stroke-width="1.1" transform="rotate(4 306.2 211.7)"/>
<ellipse cx="306.5" cy="213.0" rx="11.0" ry="4.1" fill="#fff" stroke="#000" stroke-width="1.8" transform="rotate(3 306.5 213.0)"/>
<path d="M272.2,251 L274.4,256 L275.0,260 V290 H269.4 V260 L270.0,256 Z" fill="#111" stroke="#000" stroke-width="0.8"/>
<path d="M271.4,254 L273.0,254 L273.4,256.5 L271.0,256.5Z" fill="#888"/>
<path d="M269.59999999999997,258 L274.8,259.2" stroke="#555" stroke-width="0.7"/>
<path d="M269.59999999999997,260.4 L274.8,261.59999999999997" stroke="#555" stroke-width="0.7"/>
<path d="M269.59999999999997,262.79999999999995 L274.8,263.99999999999994" stroke="#555" stroke-width="0.7"/>
<path d="M269.59999999999997,265.19999999999993 L274.8,266.3999999999999" stroke="#555" stroke-width="0.7"/>
<path d="M269.59999999999997,267.5999999999999 L274.8,268.7999999999999" stroke="#555" stroke-width="0.7"/>
<path d="M269.59999999999997,269.9999999999999 L274.8,271.1999999999999" stroke="#555" stroke-width="0.7"/>
<path d="M269.59999999999997,272.39999999999986 L274.8,273.59999999999985" stroke="#555" stroke-width="0.7"/>
<path d="M269.59999999999997,274.79999999999984 L274.8,275.99999999999983" stroke="#555" stroke-width="0.7"/>
<path d="M269.59999999999997,277.1999999999998 L274.8,278.3999999999998" stroke="#555" stroke-width="0.7"/>
<path d="M269.59999999999997,279.5999999999998 L274.8,280.7999999999998" stroke="#555" stroke-width="0.7"/>
<path d="M269.59999999999997,281.9999999999998 L274.8,283.19999999999976" stroke="#555" stroke-width="0.7"/>
<path d="M269.59999999999997,284.39999999999975 L274.8,285.59999999999974" stroke="#555" stroke-width="0.7"/>
<path d="M269.59999999999997,286.7999999999997 L274.8,287.9999999999997" stroke="#555" stroke-width="0.7"/>
<path d="M269.59999999999997,290 V313 M274.8,290 V313" stroke="#000" stroke-width="1.4"/>
<rect x="270.3" y="290" width="3.8" height="23" fill="#fff"/>
<ellipse cx="272.2" cy="314" rx="5.3" ry="3.4" fill="#fff" stroke="#000" stroke-width="1.9"/>
<path d="M275.84,313.98 L275.60,314.47 L275.17,314.91 L274.58,315.29 L273.86,315.57 L273.05,315.74 L272.20,315.80 L271.35,315.74 L270.54,315.57 L269.82,315.29 L269.23,314.91 L268.80,314.47 L268.56,313.98" fill="none" stroke="#555" stroke-width="1.2"/>
<path d="M269.59999999999997,311 V314.5 M274.8,311 V314.5" stroke="#000" stroke-width="1.4"/>
<rect x="270.3" y="310.5" width="3.8" height="3.8" fill="#fff"/>
<path d="M297.6,237 L299.8,242 L300.40000000000003,246 V275.5 H294.8 V246 L295.40000000000003,242 Z" fill="#111" stroke="#000" stroke-width="0.8"/>
<path d="M296.8,240 L298.40000000000003,240 L298.8,242.5 L296.40000000000003,242.5Z" fill="#888"/>
<path d="M295.0,244 L300.20000000000005,245.2" stroke="#555" stroke-width="0.7"/>
<path d="M295.0,246.4 L300.20000000000005,247.6" stroke="#555" stroke-width="0.7"/>
<path d="M295.0,248.8 L300.20000000000005,250.0" stroke="#555" stroke-width="0.7"/>
<path d="M295.0,251.20000000000002 L300.20000000000005,252.4" stroke="#555" stroke-width="0.7"/>
<path d="M295.0,253.60000000000002 L300.20000000000005,254.8" stroke="#555" stroke-width="0.7"/>
<path d="M295.0,256.0 L300.20000000000005,257.2" stroke="#555" stroke-width="0.7"/>
<path d="M295.0,258.4 L300.20000000000005,259.59999999999997" stroke="#555" stroke-width="0.7"/>
<path d="M295.0,260.79999999999995 L300.20000000000005,261.99999999999994" stroke="#555" stroke-width="0.7"/>
<path d="M295.0,263.19999999999993 L300.20000000000005,264.3999999999999" stroke="#555" stroke-width="0.7"/>
<path d="M295.0,265.5999999999999 L300.20000000000005,266.7999999999999" stroke="#555" stroke-width="0.7"/>
<path d="M295.0,267.9999999999999 L300.20000000000005,269.1999999999999" stroke="#555" stroke-width="0.7"/>
<path d="M295.0,270.39999999999986 L300.20000000000005,271.59999999999985" stroke="#555" stroke-width="0.7"/>
<path d="M295.0,272.79999999999984 L300.20000000000005,273.99999999999983" stroke="#555" stroke-width="0.7"/>
<path d="M295.0,275.5 V299.4 M300.20000000000005,275.5 V299.4" stroke="#000" stroke-width="1.4"/>
<rect x="295.70000000000005" y="275.5" width="3.8" height="23.899999999999977" fill="#fff"/>
<ellipse cx="297.6" cy="300.4" rx="5.3" ry="3.4" fill="#fff" stroke="#000" stroke-width="1.9"/>
<path d="M301.24,300.38 L301.00,300.87 L300.57,301.31 L299.98,301.69 L299.26,301.97 L298.45,302.14 L297.60,302.20 L296.75,302.14 L295.94,301.97 L295.22,301.69 L294.63,301.31 L294.20,300.87 L293.96,300.38" fill="none" stroke="#555" stroke-width="1.2"/>
<path d="M295.0,297.4 V300.9 M300.20000000000005,297.4 V300.9" stroke="#000" stroke-width="1.4"/>
<rect x="295.70000000000005" y="296.9" width="3.8" height="3.8" fill="#fff"/>
<path d="M316.4,277 L318.59999999999997,282 L319.2,286 V316 H313.59999999999997 V286 L314.2,282 Z" fill="#111" stroke="#000" stroke-width="0.8"/>
<path d="M315.59999999999997,280 L317.2,280 L317.59999999999997,282.5 L315.2,282.5Z" fill="#888"/>
<path d="M313.79999999999995,284 L319.0,285.2" stroke="#555" stroke-width="0.7"/>
<path d="M313.79999999999995,286.4 L319.0,287.59999999999997" stroke="#555" stroke-width="0.7"/>
<path d="M313.79999999999995,288.79999999999995 L319.0,289.99999999999994" stroke="#555" stroke-width="0.7"/>
<path d="M313.79999999999995,291.19999999999993 L319.0,292.3999999999999" stroke="#555" stroke-width="0.7"/>
<path d="M313.79999999999995,293.5999999999999 L319.0,294.7999999999999" stroke="#555" stroke-width="0.7"/>
<path d="M313.79999999999995,295.9999999999999 L319.0,297.1999999999999" stroke="#555" stroke-width="0.7"/>
<path d="M313.79999999999995,298.39999999999986 L319.0,299.59999999999985" stroke="#555" stroke-width="0.7"/>
<path d="M313.79999999999995,300.79999999999984 L319.0,301.99999999999983" stroke="#555" stroke-width="0.7"/>
<path d="M313.79999999999995,303.1999999999998 L319.0,304.3999999999998" stroke="#555" stroke-width="0.7"/>
<path d="M313.79999999999995,305.5999999999998 L319.0,306.7999999999998" stroke="#555" stroke-width="0.7"/>
<path d="M313.79999999999995,307.9999999999998 L319.0,309.19999999999976" stroke="#555" stroke-width="0.7"/>
<path d="M313.79999999999995,310.39999999999975 L319.0,311.59999999999974" stroke="#555" stroke-width="0.7"/>
<path d="M313.79999999999995,312.7999999999997 L319.0,313.9999999999997" stroke="#555" stroke-width="0.7"/>
<path d="M313.79999999999995,316 V339 M319.0,316 V339" stroke="#000" stroke-width="1.4"/>
<rect x="314.5" y="316" width="3.8" height="23" fill="#fff"/>
<ellipse cx="316.4" cy="340" rx="5.3" ry="3.4" fill="#fff" stroke="#000" stroke-width="1.9"/>
<path d="M320.04,339.98 L319.80,340.47 L319.37,340.91 L318.78,341.29 L318.06,341.57 L317.25,341.74 L316.40,341.80 L315.55,341.74 L314.74,341.57 L314.02,341.29 L313.43,340.91 L313.00,340.47 L312.76,339.98" fill="none" stroke="#555" stroke-width="1.2"/>
<path d="M313.79999999999995,337 V340.5 M319.0,337 V340.5" stroke="#000" stroke-width="1.4"/>
<rect x="314.5" y="336.5" width="3.8" height="3.8" fill="#fff"/>
<path d="M341.6,262.6 L343.8,267.6 L344.40000000000003,271.6 V302 H338.8 V271.6 L339.40000000000003,267.6 Z" fill="#111" stroke="#000" stroke-width="0.8"/>
<path d="M340.8,265.6 L342.40000000000003,265.6 L342.8,268.1 L340.40000000000003,268.1Z" fill="#888"/>
<path d="M339.0,269.6 L344.20000000000005,270.8" stroke="#555" stroke-width="0.7"/>
<path d="M339.0,272.0 L344.20000000000005,273.2" stroke="#555" stroke-width="0.7"/>
<path d="M339.0,274.4 L344.20000000000005,275.59999999999997" stroke="#555" stroke-width="0.7"/>
<path d="M339.0,276.79999999999995 L344.20000000000005,277.99999999999994" stroke="#555" stroke-width="0.7"/>
<path d="M339.0,279.19999999999993 L344.20000000000005,280.3999999999999" stroke="#555" stroke-width="0.7"/>
<path d="M339.0,281.5999999999999 L344.20000000000005,282.7999999999999" stroke="#555" stroke-width="0.7"/>
<path d="M339.0,283.9999999999999 L344.20000000000005,285.1999999999999" stroke="#555" stroke-width="0.7"/>
<path d="M339.0,286.39999999999986 L344.20000000000005,287.59999999999985" stroke="#555" stroke-width="0.7"/>
<path d="M339.0,288.79999999999984 L344.20000000000005,289.99999999999983" stroke="#555" stroke-width="0.7"/>
<path d="M339.0,291.1999999999998 L344.20000000000005,292.3999999999998" stroke="#555" stroke-width="0.7"/>
<path d="M339.0,293.5999999999998 L344.20000000000005,294.7999999999998" stroke="#555" stroke-width="0.7"/>
<path d="M339.0,295.9999999999998 L344.20000000000005,297.19999999999976" stroke="#555" stroke-width="0.7"/>
<path d="M339.0,298.39999999999975 L344.20000000000005,299.59999999999974" stroke="#555" stroke-width="0.7"/>
<path d="M339.0,300.7999999999997 L344.20000000000005,301.9999999999997" stroke="#555" stroke-width="0.7"/>
<path d="M339.0,302 V325 M344.20000000000005,302 V325" stroke="#000" stroke-width="1.4"/>
<rect x="339.70000000000005" y="302" width="3.8" height="23" fill="#fff"/>
<ellipse cx="341.6" cy="326" rx="5.3" ry="3.4" fill="#fff" stroke="#000" stroke-width="1.9"/>
<path d="M345.24,325.98 L345.00,326.47 L344.57,326.91 L343.98,327.29 L343.26,327.57 L342.45,327.74 L341.60,327.80 L340.75,327.74 L339.94,327.57 L339.22,327.29 L338.63,326.91 L338.20,326.47 L337.96,325.98" fill="none" stroke="#555" stroke-width="1.2"/>
<path d="M339.0,323 V326.5 M344.20000000000005,323 V326.5" stroke="#000" stroke-width="1.4"/>
<rect x="339.70000000000005" y="322.5" width="3.8" height="3.8" fill="#fff"/>
<path d="M258.70,393.60 L258.77,392.15 L258.96,390.69 L259.29,389.25 L259.76,387.82 L260.35,386.40 L261.06,385.01 L261.91,383.64 L262.88,382.29 L263.96,380.98 L265.17,379.70 L266.49,378.46 L267.92,377.26 L269.46,376.10 L271.11,375.00 L272.85,373.94 L274.68,372.94 L276.60,372.00 L278.61,371.11 L280.69,370.28 L282.85,369.52 L285.07,368.83 L287.35,368.20 L289.69,367.65 L292.07,367.16 L294.50,366.75 L296.96,366.41 L299.44,366.14 L301.95,365.95 L304.47,365.84 L307.00,365.80 L309.53,365.84 L312.05,365.95 L314.56,366.14 L317.04,366.41 L319.50,366.75 L321.93,367.16 L324.31,367.65 L326.65,368.20 L328.93,368.83 L331.15,369.52 L333.31,370.28 L335.39,371.11 L337.40,372.00 L339.32,372.94 L341.15,373.94 L342.89,375.00 L344.54,376.10 L346.08,377.26 L347.51,378.46 L348.83,379.70 L350.04,380.98 L351.12,382.29 L352.09,383.64 L352.94,385.01 L353.65,386.40 L354.24,387.82 L354.71,389.25 L355.04,390.69 L355.23,392.15 L355.30,393.60 L355.30,409.40 L355.23,410.85 L355.04,412.31 L354.71,413.75 L354.24,415.18 L353.65,416.60 L352.94,417.99 L352.09,419.36 L351.12,420.71 L350.04,422.02 L348.83,423.30 L347.51,424.54 L346.08,425.74 L344.54,426.90 L342.89,428.00 L341.15,429.06 L339.32,430.06 L337.40,431.00 L335.39,431.89 L333.31,432.72 L331.15,433.48 L328.93,434.17 L326.65,434.80 L324.31,435.35 L321.93,435.84 L319.50,436.25 L317.04,436.59 L314.56,436.86 L312.05,437.05 L309.53,437.16 L307.00,437.20 L304.47,437.16 L301.95,437.05 L299.44,436.86 L296.96,436.59 L294.50,436.25 L292.07,435.84 L289.69,435.35 L287.35,434.80 L285.07,434.17 L282.85,433.48 L280.69,432.72 L278.61,431.89 L276.60,431.00 L274.68,430.06 L272.85,429.06 L271.11,428.00 L269.46,426.90 L267.92,425.74 L266.49,424.54 L265.17,423.30 L263.96,422.02 L262.88,420.71 L261.91,419.36 L261.06,417.99 L260.35,416.60 L259.76,415.18 L259.29,413.75 L258.96,412.31 L258.77,410.85 L258.70,409.40Z" fill="#fff" stroke="#000" stroke-width="1.45"/>
<path d="M355.30,393.60 L355.23,395.05 L355.04,396.51 L354.71,397.95 L354.24,399.38 L353.65,400.80 L352.94,402.19 L352.09,403.56 L351.12,404.91 L350.04,406.22 L348.83,407.50 L347.51,408.74 L346.08,409.94 L344.54,411.10 L342.89,412.20 L341.15,413.26 L339.32,414.26 L337.40,415.20 L335.39,416.09 L333.31,416.92 L331.15,417.68 L328.93,418.37 L326.65,419.00 L324.31,419.55 L321.93,420.04 L319.50,420.45 L317.04,420.79 L314.56,421.06 L312.05,421.25 L309.53,421.36 L307.00,421.40 L304.47,421.36 L301.95,421.25 L299.44,421.06 L296.96,420.79 L294.50,420.45 L292.07,420.04 L289.69,419.55 L287.35,419.00 L285.07,418.37 L282.85,417.68 L280.69,416.92 L278.61,416.09 L276.60,415.20 L274.68,414.26 L272.85,413.26 L271.11,412.20 L269.46,411.10 L267.92,409.94 L266.49,408.74 L265.17,407.50 L263.96,406.22 L262.88,404.91 L261.91,403.56 L261.06,402.19 L260.35,400.80 L259.76,399.38 L259.29,397.95 L258.96,396.51 L258.77,395.05 L258.70,393.60" fill="none" stroke="#000" stroke-width="1.5"/>
<ellipse cx="307.0" cy="393.6" rx="45.8" ry="26.2" fill="#fff" stroke="#000" stroke-width="1.4"/>
<clipPath id="e2clip"><ellipse cx="307.0" cy="393.6" rx="45.199999999999996" ry="25.599999999999998"/></clipPath>
<g clip-path="url(#e2clip)">
<ellipse cx="307.0" cy="407.9" rx="45.8" ry="26.2" fill="none" stroke="#000" stroke-width="1.35"/>
<path d="M296.50,385.75 L298.01,385.27 L299.53,384.87 L301.05,384.55 L302.56,384.30 L304.07,384.13 L305.59,384.03 L307.11,384.00 L308.62,384.04 L310.13,384.15 L311.65,384.33 L313.17,384.59 L314.68,384.92 L316.19,385.33 L317.71,385.83 L319.23,386.41 L320.74,387.09 L322.25,387.87 L323.77,388.78 L325.29,389.82 L326.80,391.03 L326.80,398.98 L325.29,398.40 L323.77,397.89 L322.25,397.45 L320.74,397.05 L319.23,396.72 L317.71,396.42 L316.19,396.17 L314.68,395.97 L313.17,395.80 L311.65,395.67 L310.13,395.58 L308.62,395.52 L307.11,395.50 L305.59,395.52 L304.07,395.57 L302.56,395.65 L301.05,395.78 L299.53,395.94 L298.01,396.14 L296.50,396.39Z" fill="#fff" stroke="#000" stroke-width="1.5" stroke-linejoin="round"/>
<path d="M297.50,386.72 L298.94,386.32 L300.37,385.98 L301.81,385.72 L303.24,385.52 L304.68,385.38 L306.11,385.31 L307.55,385.30 L308.98,385.36 L310.42,385.48 L311.85,385.66 L313.28,385.91 L314.72,386.23 L316.15,386.62 L317.59,387.08 L319.02,387.63 L320.46,388.25 L321.89,388.98 L323.33,389.80 L324.76,390.75 L326.20,391.83" fill="none" stroke="#000" stroke-width="1.3"/>
<clipPath id="hclip"><path d="M283.50,380.00 L330.50,380.00 L330.50,399.50 L330.43,400.56 L330.21,401.61 L329.85,402.65 L329.35,403.67 L328.71,404.67 L327.94,405.63 L327.04,406.55 L326.01,407.44 L324.87,408.27 L323.62,409.05 L322.26,409.77 L320.81,410.42 L319.28,411.01 L317.67,411.53 L315.99,411.97 L314.26,412.34 L312.49,412.63 L310.68,412.83 L308.84,412.96 L307.00,413.00 L305.16,412.96 L303.32,412.83 L301.51,412.63 L299.74,412.34 L298.01,411.97 L296.33,411.53 L294.72,411.01 L293.19,410.42 L291.74,409.77 L290.38,409.05 L289.13,408.27 L287.99,407.44 L286.96,406.55 L286.06,405.63 L285.29,404.67 L284.65,403.67 L284.15,402.65 L283.79,401.61 L283.57,400.56 L283.50,399.50Z"/></clipPath>
<path d="M295.89,411.74 L295.01,411.18 L294.25,410.58 L293.61,409.95 L293.12,409.29 L292.77,408.62 L292.56,407.93 L292.50,407.23 L292.59,406.53 L292.83,405.84 L293.21,405.17 L293.73,404.52 L294.39,403.89 L295.18,403.30 L296.09,402.76 L297.11,402.25 L298.23,401.80 L299.45,401.41 L300.73,401.08 L302.09,400.81 L303.49,400.60 L304.93,400.47 L306.39,400.41 L307.86,400.41 L309.32,400.49 L310.75,400.64 L312.15,400.85 L313.49,401.13 L314.77,401.47 L315.97,401.88 L317.07,402.34 L318.08,402.85 L318.96,403.40 L319.73,404.00 L320.37,404.63 L320.87,405.28 L321.22,405.96 L321.44,406.65 L321.50,407.35 L321.42,408.05 L321.18,408.73" fill="none" stroke="#000" stroke-width="1.7" clip-path="url(#hclip)"/>
</g>
<path d="M283.73,401.38 L284.02,402.33 L284.43,403.27 L284.96,404.18 L285.60,405.08 L286.35,405.94 L287.20,406.77 L288.16,407.57 L289.21,408.32 L290.35,409.03 L291.58,409.69 L292.89,410.30 L294.27,410.85 L295.71,411.34 L297.22,411.77 L298.77,412.15 L300.36,412.45 L301.99,412.69 L303.65,412.86 L305.32,412.97 L307.00,413.00 L308.68,412.97 L310.35,412.86 L312.01,412.69 L313.64,412.45 L315.23,412.15 L316.78,411.77 L318.29,411.34 L319.73,410.85 L321.11,410.30 L322.42,409.69 L323.65,409.03 L324.79,408.32 L325.84,407.57 L326.80,406.77 L327.65,405.94 L328.40,405.08 L329.04,404.18 L329.57,403.27 L329.98,402.33 L330.27,401.38" fill="none" stroke="#000" stroke-width="1.3"/>
<path d="M292.8,409.6 V419 M309.2,412.9 V420" stroke="#000" stroke-width="1.4" fill="none"/>
<path d="M280.4,400.6 V412.2 H282.4 V400.6 Z" fill="#fff" stroke="#000" stroke-width="1.35"/>
<path d="M284.5,392.6 C283.0,394 282.7,397.5 282.9,400.5 C283.2,402.6 285.6,402.8 286.1,400.5 C286.5,397.5 286.2,394 284.5,392.6 Z" fill="#ccc" stroke="#000" stroke-width="1.45"/>
<path d="M285.3,417.2 V411.4 Q286.6,410.5 288.0,411.4 V417.2" fill="#fff" stroke="#000" stroke-width="1.3"/>
<path d="M330.4,403.5 Q331.8,399.5 331.4,399.3 Q332.4,402 332.0,407.5" stroke="#000" stroke-width="1.5" fill="none"/>
<rect x="329.6" y="408.2" width="3.8" height="5.8" fill="#888" stroke="#000" stroke-width="1.1"/>
<path d="M330.2,410 H333 M330.2,412 H333" stroke="#333" stroke-width="0.6"/>
<path d="M323.6,417 V413.2 Q325.2,411.6 326.8,413.2 V417" fill="#ddd" stroke="#000" stroke-width="1.1"/>
<ellipse cx="329.5" cy="416.0" rx="1.5" ry="1.2" fill="#fff" stroke="#000" stroke-width="1.0"/>
<ellipse cx="317.0" cy="417.0" rx="1.8" ry="1.6" fill="#eee" stroke="#000" stroke-width="1.1"/>
<path d="M352.80,393.60 L352.74,394.97 L352.55,396.34 L352.24,397.70 L351.80,399.05 L351.24,400.38 L350.56,401.70 L349.76,402.99 L348.84,404.26 L347.81,405.49 L346.66,406.70 L345.41,407.87 L344.05,409.00 L342.59,410.09 L341.04,411.13 L339.39,412.13 L337.65,413.07 L335.82,413.96 L333.92,414.80 L331.94,415.57 L329.90,416.29 L327.79,416.94 L325.63,417.53 L323.41,418.06 L321.15,418.52 L318.85,418.91 L316.52,419.23 L314.16,419.48 L311.79,419.66 L309.40,419.76 L307.00,419.80 L304.60,419.76 L302.21,419.66 L299.84,419.48 L297.48,419.23 L295.15,418.91 L292.85,418.52 L290.59,418.06 L288.37,417.53 L286.21,416.94 L284.10,416.29 L282.06,415.57 L280.08,414.80 L278.18,413.96 L276.35,413.07 L274.61,412.13 L272.96,411.13 L271.41,410.09 L269.95,409.00 L268.59,407.87 L267.34,406.70 L266.19,405.49 L265.16,404.26 L264.24,402.99 L263.44,401.70 L262.76,400.38 L262.20,399.05 L261.76,397.70 L261.45,396.34 L261.26,394.97 L261.20,393.60" fill="none" stroke="#000" stroke-width="1.4"/>
<path d="M294.8,585 V596 Q307.5,602 320.5,596 V585 Z" fill="#fff" stroke="#000" stroke-width="1.5"/>
<path d="M320.30,588.23 L319.87,588.80 L319.19,589.34 L318.29,589.85 L317.19,590.31 L315.89,590.72 L314.44,591.06 L312.85,591.34 L311.16,591.54 L309.40,591.66 L307.60,591.70 L305.80,591.66 L304.04,591.54 L302.35,591.34 L300.76,591.06 L299.31,590.72 L298.01,590.31 L296.91,589.85 L296.01,589.34 L295.33,588.80 L294.90,588.23" fill="none" stroke="#000" stroke-width="1.3"/>
<path d="M320.30,591.23 L319.87,591.80 L319.19,592.34 L318.29,592.85 L317.19,593.31 L315.89,593.72 L314.44,594.06 L312.85,594.34 L311.16,594.54 L309.40,594.66 L307.60,594.70 L305.80,594.66 L304.04,594.54 L302.35,594.34 L300.76,594.06 L299.31,593.72 L298.01,593.31 L296.91,592.85 L296.01,592.34 L295.33,591.80 L294.90,591.23" fill="none" stroke="#000" stroke-width="1.3"/>
<path d="M320.30,594.23 L319.87,594.80 L319.19,595.34 L318.29,595.85 L317.19,596.31 L315.89,596.72 L314.44,597.06 L312.85,597.34 L311.16,597.54 L309.40,597.66 L307.60,597.70 L305.80,597.66 L304.04,597.54 L302.35,597.34 L300.76,597.06 L299.31,596.72 L298.01,596.31 L296.91,595.85 L296.01,595.34 L295.33,594.80 L294.90,594.23" fill="none" stroke="#000" stroke-width="1.3"/>
<path d="M295,600 Q307.5,603 320,600" stroke="#000" stroke-width="2.2" fill="none"/>
<path d="M291.00,473.20 L291.05,472.45 L291.21,471.70 L291.46,470.96 L291.82,470.23 L292.28,469.53 L292.83,468.84 L293.48,468.18 L294.21,467.56 L295.03,466.97 L295.92,466.41 L296.89,465.90 L297.93,465.43 L299.02,465.01 L300.17,464.65 L301.37,464.33 L302.61,464.07 L303.88,463.87 L305.17,463.72 L306.48,463.63 L307.80,463.60 L309.12,463.63 L310.43,463.72 L311.72,463.87 L312.99,464.07 L314.23,464.33 L315.43,464.65 L316.58,465.01 L317.67,465.43 L318.71,465.90 L319.68,466.41 L320.57,466.97 L321.39,467.56 L322.12,468.18 L322.77,468.84 L323.32,469.53 L323.78,470.23 L324.14,470.96 L324.39,471.70 L324.55,472.45 L324.60,473.20 L324.6,582.0 C324.6,587.2 318.6,590.8 307.8,590.8 C297.0,590.8 291.0,587.2 291.0,582.0 Z" fill="#fff" stroke="#000" stroke-width="1.3" stroke-linejoin="round"/>
<ellipse cx="307.8" cy="472.9" rx="16.8" ry="9.8" fill="#fff" stroke="#000" stroke-width="1.4"/>
<ellipse cx="307.8" cy="473.0" rx="13.6" ry="7.9" fill="#fff" stroke="#000" stroke-width="1.35"/>
<clipPath id="pclip"><ellipse cx="307.8" cy="473.0" rx="13.0" ry="7.3"/></clipPath>
<g clip-path="url(#pclip)">
<ellipse cx="307.8" cy="481.5" rx="6" ry="2.2" fill="#777"/>
<path d="M295.20,475.50 L295.27,474.81 L295.48,474.13 L295.82,473.46 L296.29,472.82 L296.89,472.20 L297.61,471.62 L298.44,471.08 L299.37,470.60 L300.39,470.16 L301.50,469.78 L302.68,469.47 L303.91,469.22 L305.18,469.04 L306.48,468.94 L307.80,468.90 L309.12,468.94 L310.42,469.04 L311.69,469.22 L312.92,469.47 L314.10,469.78 L315.21,470.16 L316.23,470.60 L317.16,471.08 L317.99,471.62 L318.71,472.20 L319.31,472.82 L319.78,473.46 L320.12,474.13 L320.33,474.81 L320.40,475.50" fill="none" stroke="#000" stroke-width="1.8"/>
<path d="M295.60,478.50 L295.67,477.85 L295.87,477.21 L296.20,476.58 L296.65,475.98 L297.23,475.40 L297.93,474.86 L298.73,474.35 L299.64,473.89 L300.63,473.48 L301.70,473.13 L302.84,472.84 L304.03,472.60 L305.26,472.44 L306.52,472.33 L307.80,472.30 L309.08,472.33 L310.34,472.44 L311.57,472.60 L312.76,472.84 L313.90,473.13 L314.97,473.48 L315.96,473.89 L316.87,474.35 L317.67,474.86 L318.37,475.40 L318.95,475.98 L319.40,476.58 L319.73,477.21 L319.93,477.85 L320.00,478.50" fill="none" stroke="#000" stroke-width="1.3"/>
<path d="M296.00,481.30 L296.06,480.69 L296.26,480.09 L296.58,479.51 L297.02,478.94 L297.58,478.40 L298.25,477.89 L299.03,477.42 L299.90,476.99 L300.86,476.61 L301.90,476.28 L303.00,476.00 L304.15,475.78 L305.35,475.63 L306.57,475.53 L307.80,475.50 L309.03,475.53 L310.25,475.63 L311.45,475.78 L312.60,476.00 L313.70,476.28 L314.74,476.61 L315.70,476.99 L316.57,477.42 L317.35,477.89 L318.02,478.40 L318.58,478.94 L319.02,479.51 L319.34,480.09 L319.54,480.69 L319.60,481.30" fill="none" stroke="#000" stroke-width="1.3"/>
<path d="M296.60,484.00 L296.66,483.44 L296.84,482.88 L297.15,482.33 L297.57,481.80 L298.10,481.30 L298.74,480.83 L299.48,480.39 L300.31,479.99 L301.22,479.63 L302.20,479.32 L303.24,479.07 L304.34,478.86 L305.47,478.72 L306.63,478.63 L307.80,478.60 L308.97,478.63 L310.13,478.72 L311.26,478.86 L312.36,479.07 L313.40,479.32 L314.38,479.63 L315.29,479.99 L316.12,480.39 L316.86,480.83 L317.50,481.30 L318.03,481.80 L318.45,482.33 L318.76,482.88 L318.94,483.44 L319.00,484.00" fill="none" stroke="#000" stroke-width="1.3"/>
</g>
</svg>
</body></html>
